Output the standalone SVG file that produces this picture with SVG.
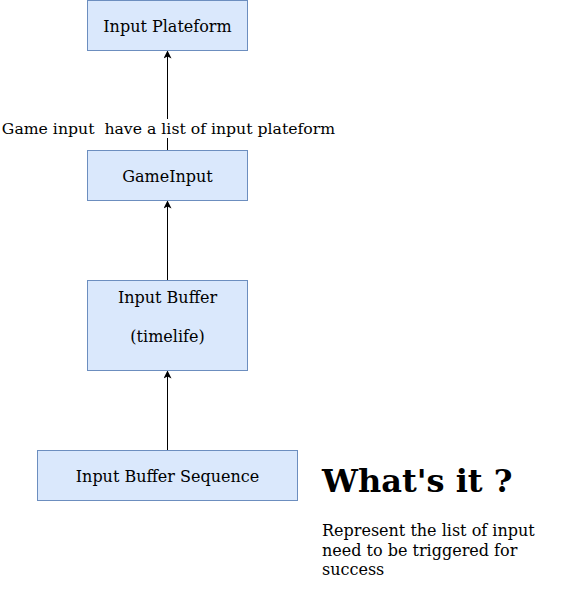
<svg xmlns="http://www.w3.org/2000/svg" width="568" height="611" viewBox="0 0 568 611">
<defs>
<style>
.box{fill:#dae8fc;stroke:#6c8ebf;stroke-width:1}
.t{font-family:"DejaVu Serif",serif;font-size:16px;fill:#000;text-anchor:middle}
.n{font-family:"DejaVu Serif",serif;font-size:16px;fill:#000}
.edge{stroke:#000;stroke-width:1;fill:none}
</style>
<marker id="arr" markerWidth="10" markerHeight="10" refX="7" refY="4" orient="auto" markerUnits="userSpaceOnUse">
<path d="M0,0 L8,4 L0,8 L2,4 Z" fill="#000"/>
</marker>
</defs>
<rect width="568" height="611" fill="#fff"/>
<g id="connectors">
<line class="edge" x1="167.5" y1="150.5" x2="167.5" y2="51.5" marker-end="url(#arr)"/>
<line class="edge" x1="167.5" y1="280.5" x2="167.5" y2="201.5" marker-end="url(#arr)"/>
<line class="edge" x1="167.5" y1="450.5" x2="167.5" y2="371.5" marker-end="url(#arr)"/>
<rect x="0" y="119" width="337" height="19" fill="#fff"/>
<text class="t" x="168.5" y="134" style="font-size:15.7px" xml:space="preserve">Game input  have a list of input plateform</text>
</g>
<g id="input-plateform">
<rect class="box" x="87.5" y="0.5" width="160" height="50"/>
<text class="t" x="167.5" y="32">Input Plateform</text>
</g>
<g id="game-input">
<rect class="box" x="87.5" y="150.5" width="160" height="50"/>
<text class="t" x="167.5" y="182">GameInput</text>
</g>
<g id="input-buffer">
<rect class="box" x="87.5" y="280.5" width="160" height="90"/>
<text class="t" x="167.5" y="303">Input Buffer</text>
<text class="t" x="167.5" y="342">(timelife)</text>
</g>
<g id="input-buffer-sequence">
<rect class="box" x="37.5" y="450.5" width="260" height="50"/>
<text class="t" x="167.5" y="482">Input Buffer Sequence</text>
</g>
<g id="note">
<text class="n" x="322" y="492" style="font-size:32px;font-weight:bold">What's it ?</text>
<text class="n" x="322" y="536">Represent the list of input</text>
<text class="n" x="322" y="556">need to be triggered for</text>
<text class="n" x="322" y="575">success</text>
</g>
</svg>
